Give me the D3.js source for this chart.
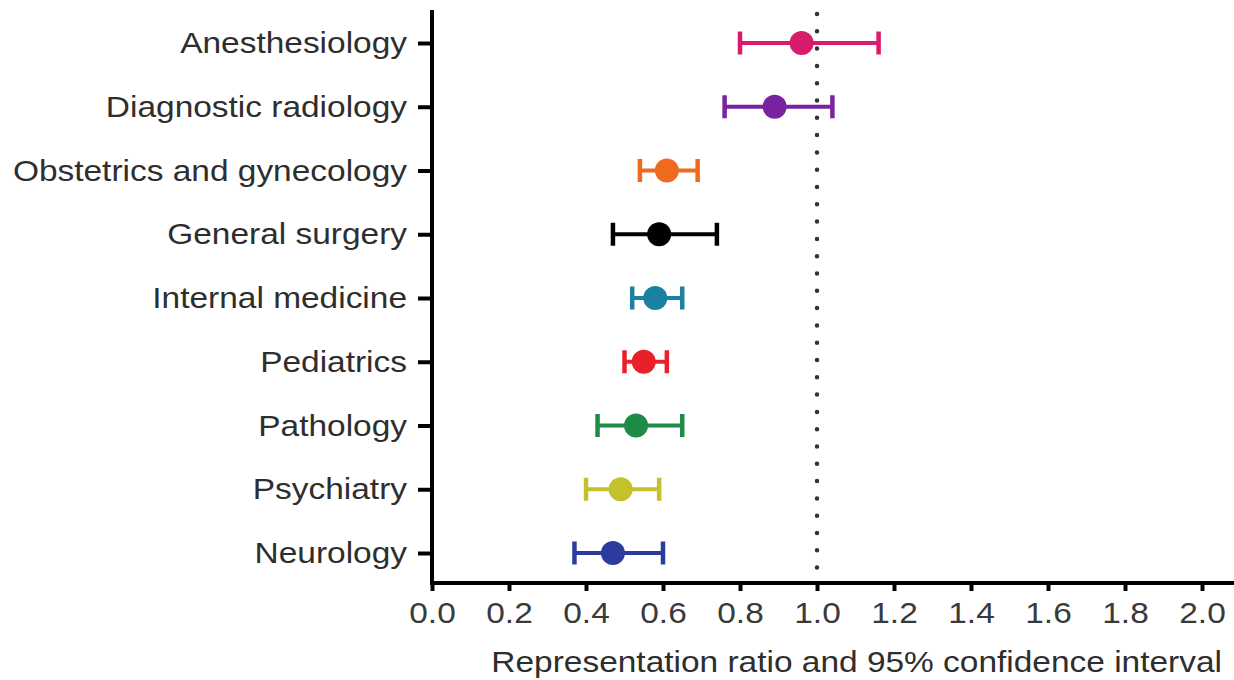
<!DOCTYPE html>
<html>
<head>
<meta charset="utf-8">
<script src="https://cdn.jsdelivr.net/npm/d3@7/dist/d3.min.js"></script>
<style>
  body { margin: 0; background: #fff; }
  text { font-family: "Liberation Sans", Arial, sans-serif; }
</style>
</head>
<body>
<div id="chart"></div>
<script>
// specialties, top to bottom
const categories = [
  'Anesthesiology', 'Diagnostic radiology', 'Obstetrics and gynecology',
  'General surgery', 'Internal medicine', 'Pediatrics', 'Pathology',
  'Psychiatry', 'Neurology'
];
// representation ratio with 95% CI
const ratio = [0.96, 0.89, 0.61, 0.59, 0.58, 0.55, 0.53, 0.49, 0.47];
const lower = [0.80, 0.76, 0.54, 0.47, 0.52, 0.50, 0.43, 0.40, 0.37];
const upper = [1.16, 1.04, 0.69, 0.74, 0.65, 0.61, 0.65, 0.59, 0.60];
const colors = ['#d81b6b', '#7a23a0', '#f06a1e', '#000000', '#1b80a2',
  '#e8202a', '#1e8b46', '#c3c22b', '#2c3c9e'];
const xTicks = [0, 0.2, 0.4, 0.6, 0.8, 1.0, 1.2, 1.4, 1.6, 1.8, 2.0];

const W = 1234, H = 680;
const stretch = 1.115; // the original text is a bit wide
const left = 432, axisY = 583;

const svg = d3.select('#chart').append('svg')
  .attr('width', W).attr('height', H);

const x = d3.scaleLinear().domain([0, 2]).range([left, 1202]);
const y = d3.scalePoint().domain(categories).range([43, 553]);

// reference line at 1.0 (dotted)
svg.append('line')
  .attr('x1', x(1)).attr('x2', x(1))
  .attr('y1', 14).attr('y2', axisY)
  .attr('stroke', '#333')
  .attr('stroke-width', 4.5)
  .attr('stroke-linecap', 'round')
  .attr('stroke-dasharray', '0,17.3');

// x axis
const gx = svg.append('g')
  .attr('transform', `translate(0,${axisY})`)
  .call(d3.axisBottom(x).tickValues(xTicks).tickFormat(d3.format('.1f'))
    .tickSize(8).tickSizeOuter(0).tickPadding(11));
gx.select('.domain').remove();
gx.append('line')
  .attr('x1', left - 2).attr('x2', W)
  .attr('stroke', '#000').attr('stroke-width', 4);
gx.selectAll('.tick line').attr('stroke', '#000').attr('stroke-width', 4);
gx.selectAll('.tick text')
  .attr('fill', '#3a3a3a')
  .attr('transform', `scale(${stretch},1)`)
  .style('font-size', '30px');

// y axis
const gy = svg.append('g')
  .attr('transform', `translate(${left},0)`)
  .call(d3.axisLeft(y).tickSize(14).tickSizeOuter(0).tickPadding(11));
gy.select('.domain').remove();
gy.append('line')
  .attr('y1', 10).attr('y2', axisY + 2)
  .attr('stroke', '#000').attr('stroke-width', 4);
gy.selectAll('.tick line').attr('stroke', '#000').attr('stroke-width', 4);
gy.selectAll('.tick text')
  .attr('x', 0)
  .attr('transform', `translate(-25,0) scale(${stretch},1)`)
  .attr('fill', '#2e2e2e')
  .style('font-size', '30px');

// axis title
svg.append('text')
  .attr('transform', `translate(1222,672) scale(${stretch},1)`)
  .attr('text-anchor', 'end')
  .attr('fill', '#2e2e2e')
  .style('font-size', '30px')
  .text('Representation ratio and 95% confidence interval');

// error bars
const rows = categories.map((c, i) => ({
  cat: c, v: ratio[i], lo: lower[i], hi: upper[i], color: colors[i]
}));
const capH = 11.5;
const g = svg.append('g').selectAll('g').data(rows).join('g');
g.append('line')
  .attr('x1', d => x(d.lo)).attr('x2', d => x(d.hi))
  .attr('y1', d => y(d.cat)).attr('y2', d => y(d.cat))
  .attr('stroke', d => d.color).attr('stroke-width', 4);
g.append('line')
  .attr('x1', d => x(d.lo)).attr('x2', d => x(d.lo))
  .attr('y1', d => y(d.cat) - capH).attr('y2', d => y(d.cat) + capH)
  .attr('stroke', d => d.color).attr('stroke-width', 4.5);
g.append('line')
  .attr('x1', d => x(d.hi)).attr('x2', d => x(d.hi))
  .attr('y1', d => y(d.cat) - capH).attr('y2', d => y(d.cat) + capH)
  .attr('stroke', d => d.color).attr('stroke-width', 4.5);
g.append('circle')
  .attr('cx', d => x(d.v)).attr('cy', d => y(d.cat))
  .attr('r', 12)
  .attr('fill', d => d.color);
</script>
</body>
</html>
